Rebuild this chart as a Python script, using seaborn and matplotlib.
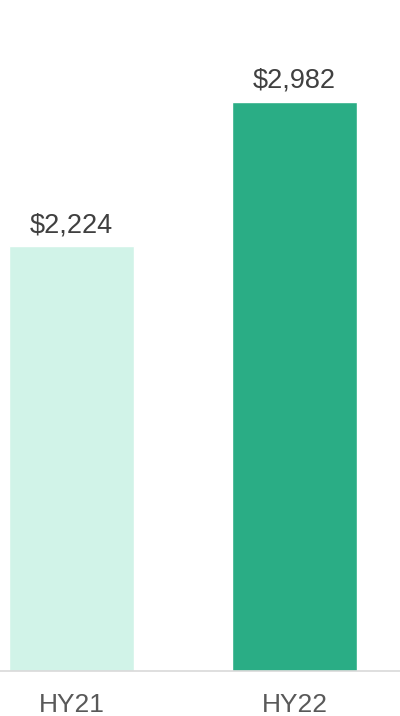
import matplotlib
matplotlib.use("Agg")
import matplotlib.pyplot as plt
import seaborn as sns
import pandas as pd

periods = ["HY21", "HY22"]
values = [2224, 2982]
bar_colors = ["#d1f3e8", "#2aad85"]

sns.set_theme(style="white")
plt.rcParams["font.family"] = ["Liberation Sans", "DejaVu Sans"]

df = pd.DataFrame({"period": periods, "value": values})

fig = plt.figure(figsize=(4.0, 7.16), dpi=100)
ax = fig.add_axes([0, 45 / 716, 1, 671 / 716])

sns.barplot(data=df, x="period", y="value", hue="period", palette=bar_colors,
            width=0.56, legend=False, saturation=1, ax=ax)

for i, v in enumerate(values):
    ax.annotate(f"${v:,}", xy=(i, v), xytext=(0, 6), textcoords="offset points",
                ha="center", va="bottom", fontsize=19.5, color="#404040")

ax.set_xlim(-0.3206, 1.473)
ax.set_ylim(0, 3515)
ax.set_xlabel("")
ax.set_ylabel("")
ax.set_yticks([])
ax.tick_params(axis="x", length=0, pad=16, labelsize=19, labelcolor="#595959")
for side in ["top", "left", "right"]:
    ax.spines[side].set_visible(False)
ax.spines["bottom"].set_color("#d9d9d9")
ax.spines["bottom"].set_linewidth(1.2)

fig.savefig("out.png", dpi=100)
